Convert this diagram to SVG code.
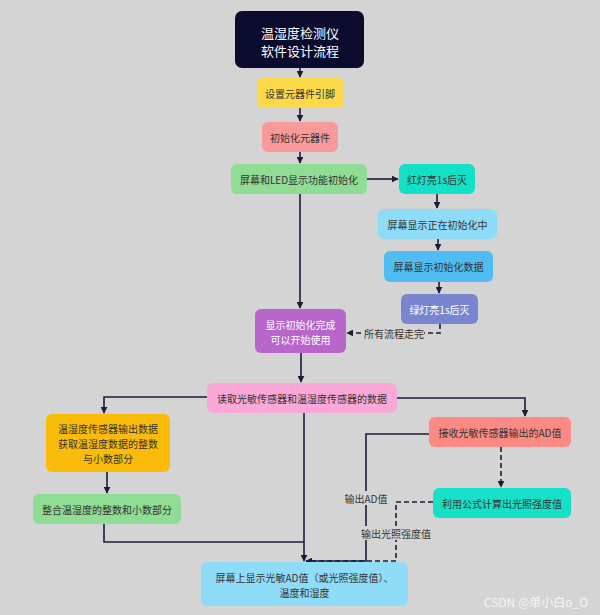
<svg xmlns="http://www.w3.org/2000/svg" width="600" height="615" viewBox="0 0 600 615">
<defs>
<marker id="ah" viewBox="0 0 10 10" refX="9" refY="5" markerWidth="7" markerHeight="7" orient="auto" markerUnits="userSpaceOnUse">
<path d="M0,0 L10,5 L0,10 z" fill="#1b1b3a"/>
</marker>
<style>
text{font-family:"Noto Sans CJK SC","Noto Sans",sans-serif;font-size:10px;fill:#333;text-anchor:middle;dominant-baseline:central}
.w{fill:#fff}
.t{font-size:13px;fill:#fff}
.e{fill:none;stroke:#1b1b3a;stroke-width:1.6}
.d{stroke-dasharray:5,3}
.lb{fill:#d4d4d4}
</style>
</defs>
<rect width="600" height="615" fill="#d4d4d4"/>

<g id="connectors">
<path class="e" d="M300,68 V77" marker-end="url(#ah)"/>
<path class="e" d="M300,108 V121" marker-end="url(#ah)"/>
<path class="e" d="M300,152 V163" marker-end="url(#ah)"/>
<path class="e" d="M367,179 H398" marker-end="url(#ah)"/>
<path class="e" d="M300,194 V308" marker-end="url(#ah)"/>
<path class="e" d="M437,194 V208" marker-end="url(#ah)"/>
<path class="e" d="M438,239 V250" marker-end="url(#ah)"/>
<path class="e" d="M439,282 V293" marker-end="url(#ah)"/>
<path class="e d" d="M440,324 V333 H347" marker-end="url(#ah)"/>
<rect class="lb" x="364" y="327" width="60" height="13"/>
<text x="394" y="333">所有流程走完</text>
<path class="e" d="M301,353 V382" marker-end="url(#ah)"/>
<path class="e" d="M207,397 H104 V413" marker-end="url(#ah)"/>
<path class="e" d="M397,398 H525 V416" marker-end="url(#ah)"/>
<path class="e" d="M107,472 V493" marker-end="url(#ah)"/>
<path class="e" d="M104,524 V542 H304"/>
<path class="e" d="M304,413 V561" marker-end="url(#ah)"/>
<path class="e" d="M429,434 H366 V561 H306" marker-end="url(#ah)"/>
<path class="e d" d="M501,447 V487" marker-end="url(#ah)"/>
<path class="e d" d="M433,502 H396 V561 H306"/>
<rect class="lb" x="344" y="491" width="44" height="14"/>
<text x="366" y="498">输出AD值</text>
<rect class="lb" x="362" y="526" width="68" height="14"/>
<text x="396" y="533">输出光照强度值</text>
</g>

<g id="n1"><rect x="235" y="11" width="129" height="57" rx="7" fill="#0b0b2e"/><text class="t" x="300" y="32">温湿度检测仪</text><text class="t" x="300" y="50">软件设计流程</text></g>
<g id="n2"><rect x="257" y="78" width="87" height="30" rx="6" fill="#fcd94a"/><text x="300" y="93">设置元器件引脚</text></g>
<g id="n3"><rect x="262" y="122" width="76" height="30" rx="6" fill="#f99a9a"/><text x="300" y="137">初始化元器件</text></g>
<g id="n4"><rect x="231" y="164" width="136" height="30" rx="6" fill="#8fdc94"/><text x="299" y="179">屏幕和LED显示功能初始化</text></g>
<g id="n5"><rect x="399" y="164" width="76" height="30" rx="6" fill="#13e0c4"/><text x="437" y="179">红灯亮1s后灭</text></g>
<g id="n6"><rect x="378" y="209" width="119" height="30" rx="6" fill="#8fdcf8"/><text x="437.5" y="224">屏幕显示正在初始化中</text></g>
<g id="n7"><rect x="384" y="251" width="109" height="31" rx="6" fill="#4fbdf2"/><text x="438.5" y="266.5">屏幕显示初始化数据</text></g>
<g id="n8"><rect x="401" y="294" width="77" height="30" rx="6" fill="#7a85cf"/><text class="w" x="439.5" y="309">绿灯亮1s后灭</text></g>
<g id="n9"><rect x="255" y="309" width="91" height="44" rx="6" fill="#b866cc"/><text class="w" x="300.5" y="324">显示初始化完成</text><text class="w" x="300.5" y="339">可以开始使用</text></g>
<g id="n10"><rect x="207" y="383" width="190" height="30" rx="6" fill="#f9a8d8"/><text x="302" y="398">读取光敏传感器和温湿度传感器的数据</text></g>
<g id="n11"><rect x="46" y="414" width="124" height="58" rx="6" fill="#fbbb0a"/><text x="108" y="428">温湿度传感器输出数据</text><text x="108" y="443">获取温湿度数据的整数</text><text x="108" y="458">与小数部分</text></g>
<g id="n12"><rect x="33" y="494" width="148" height="30" rx="6" fill="#8fdc94"/><text x="107" y="509">整合温湿度的整数和小数部分</text></g>
<g id="n13"><rect x="429" y="417" width="142" height="30" rx="6" fill="#fb8a85"/><text x="500" y="432">接收光敏传感器输出的AD值</text></g>
<g id="n14"><rect x="433" y="488" width="138" height="30" rx="6" fill="#15e0c8"/><text x="502" y="503">利用公式计算出光照强度值</text></g>
<g id="n15"><rect x="201" y="562" width="207" height="44" rx="6" fill="#8fdcf8"/><text x="304.5" y="577">屏幕上显示光敏AD值（或光照强度值）、</text><text x="304.5" y="592">温度和湿度</text></g>

<text x="536" y="601" style="font-size:12px;fill:#f4f4f4">CSDN @单小白o_O</text>
</svg>
